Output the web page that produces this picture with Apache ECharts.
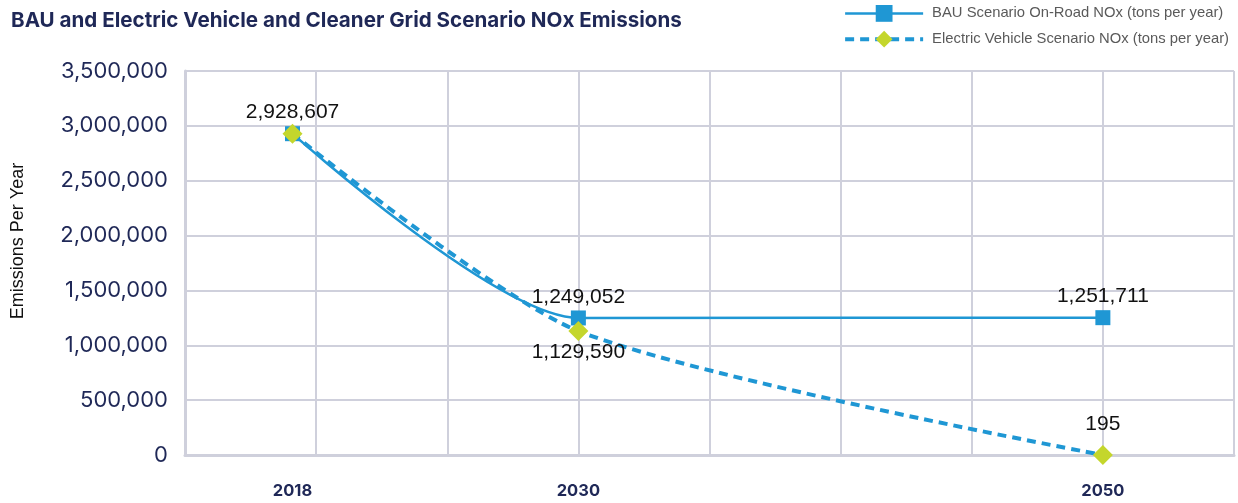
<!DOCTYPE html>
<html><head><meta charset="utf-8">
<script src="https://cdn.jsdelivr.net/npm/echarts@6/dist/echarts.min.js"></script>
<style>html,body{margin:0;padding:0;background:#fff}#c{width:1238px;height:503px}</style>
</head><body><div id="c"></div>
<script>
const years = ['2018', '2030', '2050'];
const xPos = [0.82, 3, 7];
const bauValues = [2928607, 1249052, 1251711];
const evValues = [2928607, 1129590, 195];
const evLabelPos = [null, 'bottom', 'top'];

const navy = '#1f2857';
const blue = '#1f97d4';
const green = '#c4d62c';
const gridCol = '#cfd0dc';
const fmt = v => v.toLocaleString('en-US');
const bauName = 'BAU Scenario On-Road NOx (tons per year)';
const evName = 'Electric Vehicle Scenario NOx (tons per year)';

const chart = echarts.init(document.getElementById('c'));
chart.setOption({
  animation: false,
  title: {
    text: 'BAU and Electric Vehicle and Cleaner Grid Scenario NOx Emissions',
    left: 6, top: 5,
    textStyle: { fontFamily: 'Inter', fontWeight: 'bold', fontSize: 20.6, color: navy }
  },
  legend: {
    right: 4, top: 0, orient: 'vertical', itemGap: 9,
    itemWidth: 78, itemHeight: 21,
    textStyle: { fontFamily: 'Liberation Sans', fontSize: 14.8, color: '#5a5a5a', padding: [0, 0, 0, 4] },
    data: [
      { name: bauName, lineStyle: { width: 2.5 } },
      { name: evName, lineStyle: { width: 4, type: [9, 6] } }
    ]
  },
  grid: { left: 185, right: 4, top: 71, bottom: 48, containLabel: false },
  xAxis: {
    type: 'value', min: 0, max: 8, interval: 1,
    axisLine: { show: true, lineStyle: { color: gridCol, width: 3 } },
    axisTick: { show: false },
    splitLine: { show: true, lineStyle: { color: gridCol, width: 2 } },
    axisLabel: {
      customValues: xPos,
      formatter: v => { const i = xPos.findIndex(p => Math.abs(p - v) < 1e-6); return i >= 0 ? years[i] : ''; },
      margin: 28, color: navy, fontFamily: 'Inter', fontWeight: 'bold', fontSize: 16.5
    }
  },
  yAxis: {
    type: 'value', min: 0, max: 3500000, interval: 500000,
    name: 'Emissions Per Year', nameLocation: 'middle', nameGap: 158, nameRotate: 90,
    nameTextStyle: { fontFamily: 'Liberation Sans', fontSize: 18, color: '#111', padding: [0, 0, 0, 44] },
    axisLine: { show: true, lineStyle: { color: gridCol, width: 3 } },
    axisTick: { show: false },
    splitLine: { show: true, lineStyle: { color: gridCol, width: 2 } },
    axisLabel: {
      margin: 17, color: navy, fontFamily: 'Inter', fontSize: 22,
      formatter: v => fmt(v)
    }
  },
  series: [
    {
      name: bauName,
      type: 'line', smooth: 0.25,
      data: xPos.map((x, i) => [x, bauValues[i]]),
      symbol: 'rect', symbolSize: 15,
      itemStyle: { color: blue },
      lineStyle: { color: blue, width: 2.5 },
      label: { show: true, position: 'top', distance: 3, formatter: p => fmt(p.value[1]),
        fontFamily: 'Liberation Sans', fontSize: 21, color: '#111' },
      z: 2
    },
    {
      name: evName,
      type: 'line', smooth: 0.25,
      data: xPos.map((x, i) => ({
        value: [x, evValues[i]],
        label: evLabelPos[i]
          ? { show: true, position: evLabelPos[i], distance: evLabelPos[i] === 'top' ? 10 : 1 }
          : { show: false }
      })),
      symbol: 'diamond', symbolSize: 20,
      itemStyle: { color: green },
      lineStyle: { color: blue, width: 4, type: [9, 6] },
      label: { formatter: p => fmt(p.value[1]),
        fontFamily: 'Liberation Sans', fontSize: 21, color: '#111' },
      z: 3
    }
  ]
});
</script></body></html>
